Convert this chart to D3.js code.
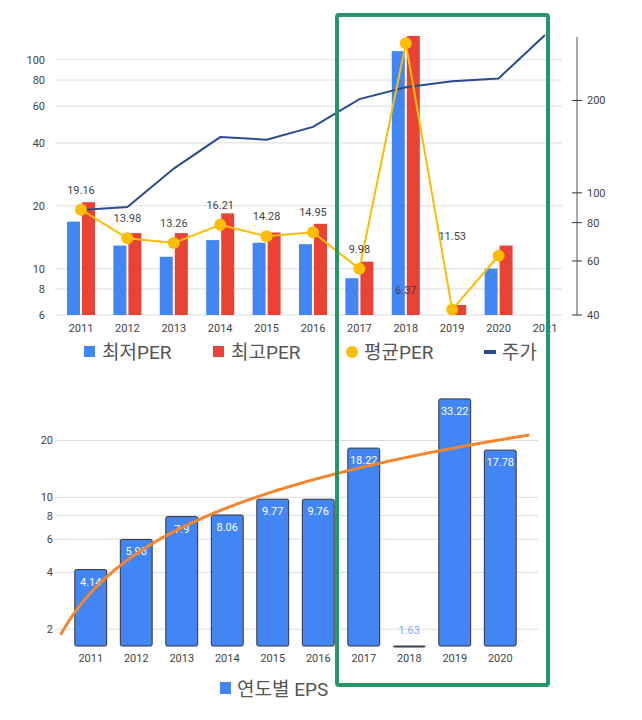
<!DOCTYPE html>
<html><head><meta charset="utf-8">
<script src="https://cdn.jsdelivr.net/npm/d3@7"></script>
<style>body{margin:0;background:#fff;font-family:Roboto,"Noto Sans CJK KR",sans-serif}</style>
</head><body><div id="chart"></div>
<script>
var years = ["2011","2012","2013","2014","2015","2016","2017","2018","2019","2020","2021"];
var minPer = [16.8, 12.9, 11.4, 13.7, 13.3, 13.1, 9.0, 110, 5.5, 10.0];
var maxPer = [20.8, 14.8, 14.8, 18.4, 14.9, 16.4, 10.8, 130, 6.7, 12.9];
var avgPer = [19.16, 13.98, 13.26, 16.21, 14.28, 14.95, 9.98, 120, 6.37, 11.53];
var price = [88, 90, 120, 152, 149, 164, 202, 221, 231, 236, 327];
var epsYears = ["2011","2012","2013","2014","2015","2016","2017","2018","2019","2020"];
var eps = [4.14, 5.98, 7.9, 8.06, 9.77, 9.76, 18.22, 1.63, 33.22, 17.78];
var leftTicks = [6, 8, 10, 20, 40, 60, 80, 100];
var rightTicks = [40, 60, 80, 100, 200];
var epsTicks = [2, 4, 6, 8, 10, 20];

var svg = d3.select("#chart").append("svg").attr("width", 642).attr("height", 720);
var grey = "#444", grid = "#ddd";

// ---- top chart
var x = d3.scalePoint().domain(years).range([81, 545]);
var y = d3.scaleLog().domain([6, 130]).range([315, 36]);
var yr = d3.scaleLog().domain([40, 322]).range([315, 37]);

var g = svg.append("g");
g.selectAll("line.grid").data(leftTicks).enter().append("line")
    .attr("x1", 55).attr("x2", 562).attr("y1", y).attr("y2", y)
    .attr("stroke", grid);
g.selectAll("text.yl").data(leftTicks).enter().append("text")
    .attr("x", 45).attr("y", function(d) { return y(d) + 4; })
    .attr("text-anchor", "end").attr("font-size", 11).attr("fill", grey).text(function(d) { return d; });
g.selectAll("text.xl").data(years).enter().append("text")
    .attr("x", x).attr("y", 332).attr("text-anchor", "middle")
    .attr("font-size", 11).attr("fill", grey).text(function(d) { return d; });

g.selectAll("rect.min").data(minPer).enter().append("rect")
    .attr("x", function(d, i) { return x(years[i]) - 14; }).attr("width", 13)
    .attr("y", function(d) { return y(Math.max(d, 6)); })
    .attr("height", function(d) { return 315 - y(Math.max(d, 6)); })
    .attr("fill", "#4285f4");
g.selectAll("rect.max").data(maxPer).enter().append("rect")
    .attr("x", function(d, i) { return x(years[i]) + 1; }).attr("width", 13)
    .attr("y", y).attr("height", function(d) { return 315 - y(d); })
    .attr("fill", "#ea4335");

g.append("path").datum(price)
    .attr("d", d3.line().x(function(d, i) { return x(years[i]); }).y(yr))
    .attr("fill", "none").attr("stroke", "#2a4b8d").attr("stroke-width", 2);

g.append("path").datum(avgPer)
    .attr("d", d3.line().x(function(d, i) { return x(years[i]); }).y(y))
    .attr("fill", "none").attr("stroke", "#fbbc04").attr("stroke-width", 2);
g.selectAll("circle.avg").data(avgPer).enter().append("circle")
    .attr("cx", function(d, i) { return x(years[i]); }).attr("cy", y).attr("r", 6)
    .attr("fill", "#fbbc04");
g.selectAll("text.avg").data(avgPer).enter().append("text")
    .filter(function(d, i) { return i !== 7; })
    .attr("x", function(d, i) { return x(years[i]); }).attr("y", function(d) { return y(d) - 16; })
    .attr("text-anchor", "middle").attr("font-size", 11).attr("fill", grey)
    .text(function(d) { return d; });

// right axis
var ra = g.append("g").attr("transform", "translate(577,0)");
ra.append("line").attr("y1", 37).attr("y2", 315).attr("stroke", "#555");
ra.selectAll("line.t").data(rightTicks).enter().append("line")
    .attr("x1", -5).attr("x2", 5).attr("y1", yr).attr("y2", yr).attr("stroke", "#333");
ra.selectAll("text").data(rightTicks).enter().append("text")
    .attr("x", 10).attr("y", function(d) { return yr(d) + 4; })
    .attr("font-size", 11).attr("fill", grey).text(function(d) { return d; });

// legend
var leg = [{t:"최저PER", c:"#4285f4", s:"rect", x:84}, {t:"최고PER", c:"#ea4335", s:"rect", x:213},
           {t:"평균PER", c:"#fbbc04", s:"circle", x:346}, {t:"주가", c:"#2a4b8d", s:"line", x:484}];
leg.forEach(function(l) {
    if (l.s === "rect") g.append("rect").attr("x", l.x).attr("y", 346).attr("width", 11).attr("height", 11).attr("fill", l.c);
    if (l.s === "circle") g.append("circle").attr("cx", l.x + 6).attr("cy", 352).attr("r", 6).attr("fill", l.c);
    if (l.s === "line") g.append("rect").attr("x", l.x).attr("y", 350).attr("width", 12).attr("height", 4).attr("fill", l.c);
    g.append("text").attr("x", l.x + 18).attr("y", 359).attr("font-size", 19).attr("fill", "#555").text(l.t);
});

// ---- bottom chart
var xb = d3.scaleBand().domain(epsYears).range([68, 523]).paddingInner(0.3).paddingOuter(0.15);
var yb = d3.scaleLog().domain([1.63, 34]).range([646, 397]);
var b = svg.append("g");
b.selectAll("line.grid").data(epsTicks).enter().append("line")
    .attr("x1", 55).attr("x2", 538).attr("y1", yb).attr("y2", yb).attr("stroke", grid);
b.selectAll("text.yl").data(epsTicks).enter().append("text")
    .attr("x", 53).attr("y", function(d) { return yb(d) + 4; })
    .attr("text-anchor", "end").attr("font-size", 11).attr("fill", grey).text(function(d) { return d; });
b.selectAll("text.xl").data(epsYears).enter().append("text")
    .attr("x", function(d) { return xb(d) + xb.bandwidth() / 2; }).attr("y", 662)
    .attr("text-anchor", "middle").attr("font-size", 11).attr("fill", grey).text(function(d) { return d; });
b.selectAll("rect.eps").data(eps).enter().append("rect")
    .attr("x", function(d, i) { return xb(epsYears[i]); }).attr("width", xb.bandwidth())
    .attr("y", function(d) { return yb(d); }).attr("height", function(d) { return Math.max(646 - yb(d), 1); })
    .attr("fill", "#4285f4").attr("stroke", "#333").attr("stroke-width", 1).attr("rx", 1.5);
b.selectAll("text.eps").data(eps).enter().append("text")
    .attr("x", function(d, i) { return xb(epsYears[i]) + xb.bandwidth() / 2; })
    .attr("y", function(d) { return d < 2 ? yb(d) - 12 : yb(d) + 16; })
    .attr("text-anchor", "middle").attr("font-size", 11)
    .attr("fill", function(d) { return d < 2 ? "#7ba7f7" : "#fff"; })
    .text(function(d) { return d; });

// linear trendline from data (least squares), drawn on log axis
var n = eps.length, mt = d3.mean(eps, function(d, i) { return i + 1; }), mv = d3.mean(eps);
var sxy = d3.sum(eps, function(d, i) { return (i + 1 - mt) * (d - mv); });
var sxx = d3.sum(eps, function(d, i) { return (i + 1 - mt) * (i + 1 - mt); });
var slope = sxy / sxx, icpt = mv - slope * mt;
var step = xb.step(), x1 = xb(epsYears[0]) + xb.bandwidth() / 2;
var tr = d3.range(0.34, 10.66, 0.05);
b.append("path").datum(tr)
    .attr("d", d3.line().x(function(t) { return x1 + (t - 1) * step; })
        .y(function(t) { return yb(Math.max(icpt + slope * t, 1.63)); }))
    .attr("fill", "none").attr("stroke", "#f5862e").attr("stroke-width", 3);

b.append("rect").attr("x", 220).attr("y", 682).attr("width", 11).attr("height", 12).attr("fill", "#4285f4");
b.append("text").attr("x", 237).attr("y", 696).attr("font-size", 19).attr("fill", "#555").text("연도별 EPS");

// highlight box
svg.append("rect").attr("x", 337).attr("y", 15).attr("width", 211).attr("height", 670)
    .attr("fill", "none").attr("stroke", "#23966a").attr("stroke-width", 4).attr("rx", 2);
</script></body></html>
